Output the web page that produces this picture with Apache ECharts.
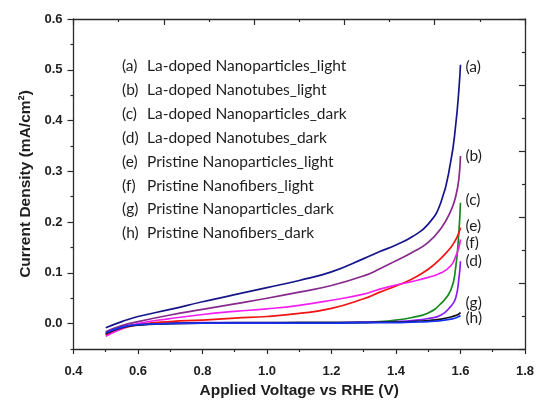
<!DOCTYPE html>
<html>
<head>
<meta charset="utf-8">
<script src="https://cdn.jsdelivr.net/npm/echarts@6/dist/echarts.min.js"></script>
<style>
  html, body { margin: 0; padding: 0; background: #fff; }
  #chart { width: 537px; height: 404px; }
</style>
</head>
<body>
<div id="chart"></div>
<script>
// Applied voltage (V vs RHE) sampling points shared by all curves
const voltage = [0.5, 0.55, 0.6, 0.7, 0.8, 0.9, 1.0, 1.1, 1.2, 1.3, 1.35, 1.4, 1.45, 1.5, 1.54, 1.57, 1.585, 1.595, 1.6];

// Current density (mA/cm2) for each sample
const laNanoparticlesLight = [-0.008, 0.004, 0.014, 0.028, 0.043, 0.057, 0.071, 0.085, 0.102, 0.128, 0.142, 0.155, 0.171, 0.196, 0.24, 0.32, 0.39, 0.46, 0.51];
const laNanotubesLight     = [-0.016, -0.004, 0.004, 0.017, 0.028, 0.039, 0.050, 0.062, 0.075, 0.094, 0.108, 0.124, 0.140, 0.160, 0.188, 0.222, 0.25, 0.285, 0.33];
const laNanoparticlesDark  = [-0.022, -0.008, -0.002, 0.001, 0.001, 0.002, 0.002, 0.002, 0.002, 0.003, 0.004, 0.007, 0.012, 0.021, 0.040, 0.066, 0.11, 0.18, 0.238];
const laNanotubesDark      = [-0.020, -0.007, -0.002, 0.001, 0.002, 0.002, 0.002, 0.002, 0.002, 0.003, 0.003, 0.004, 0.006, 0.010, 0.017, 0.034, 0.05, 0.088, 0.123];
const prNanoparticlesLight = [-0.022, -0.010, -0.002, 0.004, 0.007, 0.011, 0.014, 0.020, 0.030, 0.049, 0.062, 0.074, 0.088, 0.107, 0.129, 0.150, 0.165, 0.179, 0.189];
const prNanofibersLight    = [-0.025, -0.010, 0.000, 0.010, 0.018, 0.024, 0.029, 0.036, 0.046, 0.058, 0.068, 0.076, 0.083, 0.091, 0.100, 0.114, 0.132, 0.150, 0.166];
const prNanoparticlesDark  = [-0.020, -0.008, -0.003, 0.000, 0.001, 0.001, 0.001, 0.002, 0.002, 0.002, 0.003, 0.003, 0.004, 0.006, 0.009, 0.013, 0.016, 0.019, 0.022];
const prNanofibersDark     = [-0.018, -0.007, -0.002, 0.000, 0.001, 0.001, 0.001, 0.001, 0.001, 0.002, 0.002, 0.002, 0.003, 0.004, 0.006, 0.009, 0.011, 0.014, 0.016];

// Curve tags, names and values in legend order
const tags = ['a', 'b', 'c', 'd', 'e', 'f', 'g', 'h'];
const names = [
  'La-doped Nanoparticles_light',
  'La-doped Nanotubes_light',
  'La-doped Nanoparticles_dark',
  'La-doped Nanotubes_dark',
  'Pristine Nanoparticles_light',
  'Pristine Nanofibers_light',
  'Pristine Nanoparticles_dark',
  'Pristine Nanofibers_dark'
];
const values = [
  laNanoparticlesLight, laNanotubesLight, laNanoparticlesDark, laNanotubesDark,
  prNanoparticlesLight, prNanofibersLight, prNanoparticlesDark, prNanofibersDark
];

// Axis tick values
const xTicks = [0.4, 0.6, 0.8, 1.0, 1.2, 1.4, 1.6, 1.8];
const yMajorTicks = [0.0, 0.1, 0.2, 0.3, 0.4, 0.5, 0.6];
const yMinorTicks = [-0.05, 0.05, 0.15, 0.25, 0.35, 0.45, 0.55];

// Styling
const colors = ['#16168a', '#862a8c', '#168a1e', '#8a1cf5', '#f01414', '#f51ef0', '#111111', '#1432f0'];
const tagOffsets = [[0, 2.5], [0, 0], [0, -3], [0, 0], [0, -2], [0, 4], [0, -9], [0, 3]];
const axisColor = '#2a2a2a';
const boldFont = 'Liberation Sans, Arial, sans-serif';
const labelFont = { fontFamily: boldFont, fontWeight: 'bold', fontSize: 13, color: '#1e1e1e' };
const titleFont = { fontFamily: boldFont, fontWeight: 'bold', fontSize: 15.5, color: '#1e1e1e' };
const textFont = 'Lato, Calibri, sans-serif';
const textSize = 15.5;

const chart = echarts.init(document.getElementById('chart'), null, { renderer: 'canvas' });

const series = names.map((name, i) => ({
  name: name,
  type: 'line',
  xAxisIndex: 0,
  yAxisIndex: 0,
  data: voltage.map((v, k) => [v, values[i][k]]),
  showSymbol: false,
  symbol: 'none',
  smooth: 0.5,
  lineStyle: { color: colors[i], width: 1.7 },
  itemStyle: { color: colors[i] },
  emphasis: { disabled: true },
  endLabel: {
    show: true,
    formatter: '(' + tags[i] + ')',
    distance: 5,
    offset: tagOffsets[i],
    fontFamily: textFont,
    fontSize: textSize,
    color: '#1e1e1e'
  }
}));

const option = {
  animation: false,
  backgroundColor: '#ffffff',
  grid: { left: 73.5, right: 10, top: 19, bottom: 51, containLabel: false },
  legend: {
    orient: 'vertical',
    left: 112,
    top: 53,
    icon: 'none',
    itemWidth: 0,
    itemHeight: 14,
    itemGap: 7.9,
    selectedMode: false,
    data: names,
    formatter: function (name) {
      const i = names.indexOf(name);
      return '{k|(' + tags[i] + ')}{t|' + name + '}';
    },
    textStyle: {
      color: '#1e1e1e',
      rich: {
        k: { fontFamily: textFont, fontSize: textSize, width: 25, lineHeight: 14, color: '#1e1e1e' },
        t: { fontFamily: textFont, fontSize: textSize, lineHeight: 14, color: '#1e1e1e' }
      }
    }
  },
  xAxis: [
    {
      type: 'value',
      position: 'bottom',
      min: 0.4,
      max: 1.8,
      interval: 0.2,
      name: 'Applied Voltage vs RHE (V)',
      nameLocation: 'middle',
      nameGap: 34,
      nameTextStyle: titleFont,
      axisLine: { show: true, onZero: false, lineStyle: { color: axisColor, width: 1.3 } },
      axisTick: { show: true, inside: false, length: 5, lineStyle: { color: axisColor, width: 1.2 } },
      minorTick: { show: true, splitNumber: 2, length: 3, lineStyle: { color: axisColor, width: 1.2 } },
      splitLine: { show: false },
      axisLabel: Object.assign({ margin: 16, formatter: v => xTicks.find(t => Math.abs(t - v) < 1e-9).toFixed(1) }, labelFont)
    },
    {
      type: 'value',
      position: 'top',
      min: 0,
      max: 5,
      interval: 1,
      axisLine: { show: true, onZero: false, lineStyle: { color: axisColor, width: 1.3 } },
      axisTick: { show: true, inside: true, length: 6, lineStyle: { color: axisColor, width: 1.2 } },
      minorTick: { show: true, splitNumber: 2, length: 3, lineStyle: { color: axisColor, width: 1.2 } },
      splitLine: { show: false },
      axisLabel: { show: false }
    }
  ],
  yAxis: [
    {
      type: 'value',
      position: 'left',
      min: -0.05,
      max: 0.6,
      name: 'Current Density (mA/cm²)',
      nameLocation: 'middle',
      nameGap: 40,
      nameTextStyle: titleFont,
      axisLine: { show: true, onZero: false, lineStyle: { color: axisColor, width: 1.3 } },
      axisTick: { show: true, inside: false, length: 6, customValues: yMajorTicks, lineStyle: { color: axisColor, width: 1.2 } },
      splitLine: { show: false },
      axisLabel: Object.assign({ margin: 11, customValues: yMajorTicks, formatter: v => v.toFixed(1) }, labelFont)
    },
    {
      // minor ticks of the current density axis
      type: 'value',
      position: 'left',
      offset: 0,
      min: -0.05,
      max: 0.6,
      axisLine: { show: false },
      axisTick: { show: true, inside: false, length: 3, customValues: yMinorTicks, lineStyle: { color: axisColor, width: 1.2 } },
      splitLine: { show: false },
      axisLabel: { show: false }
    },
    {
      type: 'value',
      position: 'right',
      min: 0,
      max: 5,
      interval: 1,
      axisLine: { show: true, onZero: false, lineStyle: { color: axisColor, width: 1.3 } },
      axisTick: { show: true, inside: true, length: 6, lineStyle: { color: axisColor, width: 1.2 } },
      minorTick: { show: true, splitNumber: 2, length: 3, lineStyle: { color: axisColor, width: 1.2 } },
      splitLine: { show: false },
      axisLabel: { show: false }
    }
  ],
  series: series
};

chart.setOption(option);
</script>
</body>
</html>
